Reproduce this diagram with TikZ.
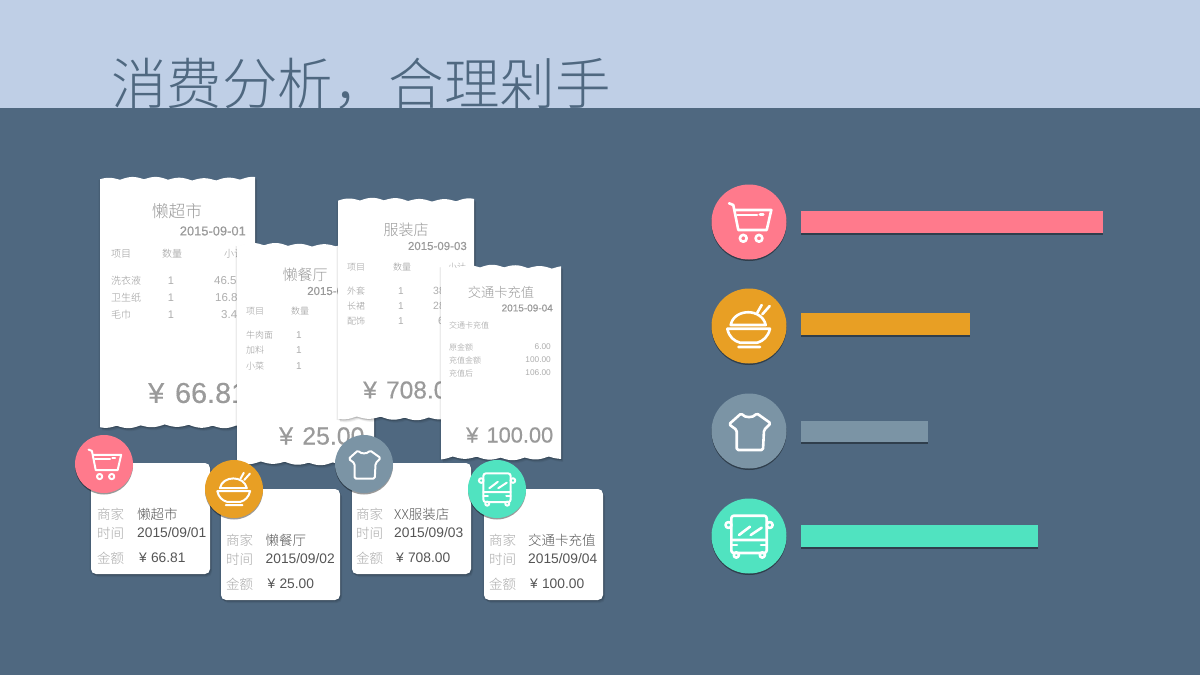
\documentclass[tikz,border=0pt]{standalone}
\usepackage{fontspec}
\setmainfont{Liberation Sans}
\newfontfamily\cjk{Noto Sans CJK SC}[UprightFont=* Light]
\newfontfamily\numb{Liberation Sans}[FakeBold=0.4]
\usetikzlibrary{shadows}
\definecolor{bandblue}{HTML}{4F6880}
\definecolor{topblue}{HTML}{BFCFE6}
\definecolor{pinkc}{HTML}{FF7A8C}
\definecolor{orangec}{HTML}{E89F24}
\definecolor{grayc}{HTML}{7B94A5}
\definecolor{tealc}{HTML}{50E3C0}
\definecolor{inkc}{HTML}{9A9A9A}
\definecolor{inkd}{HTML}{555555}
\newcommand{\fz}[1]{\fontsize{#1}{#1}\selectfont}
\tikzset{
  softshadow/.style={drop shadow={shadow xshift=-1.5pt,shadow yshift=-1pt,opacity=.08,fill=black},
    drop shadow={shadow xshift=1pt,shadow yshift=-1pt,opacity=.1,fill=black},
    drop shadow={shadow xshift=1.5pt,shadow yshift=-2pt,opacity=.08,fill=black},
    drop shadow={shadow xshift=2pt,shadow yshift=-3pt,opacity=.06,fill=black}},
  lowshadow/.style={drop shadow={shadow xshift=0pt,shadow yshift=-1.5pt,opacity=.4,fill=black}},
  tx/.style={inner sep=0pt,text=inkc,font=\cjk\fz{#1}},
  tx/.default=10,
  tn/.style={inner sep=0pt,text=inkc!80,font=\fz{#1}},
  lbl/.style={inner sep=0pt,anchor=west,text=inkc!85,font=\cjk\fz{13.5}},
  val/.style={inner sep=0pt,anchor=west,text=inkd,font=\cjk\fz{13.5}},
  num/.style={inner sep=0pt,anchor=west,text=inkd,font=\fz{13.8}},
  date/.style={inner sep=0pt,anchor=east,text=inkc,font=\numb\fz{#1}},
  total/.style={inner sep=0pt,anchor=west,text=inkc,font=\numb\fz{#1}},
  dot/.style={circle,inner sep=0pt,minimum size=#1,lowshadow},
  icon/.style={white,line join=round,line cap=round},
  carticon/.pic={
    \draw[icon] (-20,-18.7) -- (-15.7,-17) -- (-10.7,8) -- (17.7,8) -- (22.3,-12) -- (-13,-12);
    \draw[icon] (-11.7,-7) -- (8,-7) (11,-7.5) -- (14.3,-7.5);
    \draw[icon] (-5.7,16.3) circle (3.4) (10,16.3) circle (3.4);
  },
  bowlicon/.pic={
    \draw[icon] (-18.3,-1) .. controls (-15,-18) and (13,-18) .. (16.7,-1) -- cycle;
    \draw[icon] (-21.7,2.7) -- (21,2.7) .. controls (19,11) and (14,15) .. (8.3,16.7) -- (-9,16.7) .. controls (-15,15) and (-20,11) .. (-21.7,2.7);
    \draw[icon] (-10.7,21) -- (11,21) (8.3,-13.3) -- (12.7,-21) (13.3,-11.7) -- (20.7,-20);
  },
  shirticon/.pic={
    \draw[icon,rounded corners=1.5pt] (-7.7,-17.7) .. controls (-4,-13) and (4,-13) .. (7.7,-17.7) -- (21.7,-7.7) -- (15,-1) -- (14,19) -- (-12.3,19) -- (-12.3,-1) -- (-20,-6.7) -- cycle;
  },
  busicon/.pic={
    \draw[icon,rounded corners=2.5pt] (-17.7,-20.3) rectangle (17.7,17);
    \draw[icon] (-17.7,4) -- (17.7,4) (-10,-1) -- (1,-9.3) (1.7,-1) -- (12.7,-8.3);
    \draw[icon] (-17.7,9) -- (-12,9) (12,9) -- (17.7,9);
    \draw[icon] (-20.5,-11) circle (3) (20.7,-11) circle (3);
    \draw[icon] (-12.7,19) circle (2.6) (13.3,19) circle (2.6);
  },
}
% torn till paper: x0, x1, top, bottom
\newcommand{\tornpaper}[4]{
\fill[white,softshadow] plot[domain=#1:#2,samples=90] (\x,{#3-2.5*abs(sin(7.5*\x))-.7*sin(3.1*\x)})
  -- plot[domain=#2:#1,samples=90] (\x,{#4+2.5*abs(sin(7.5*\x+25))+.7*sin(3.7*\x)}) -- cycle;
}
% card: name, x, y, label x, value x, shop, time, money
\newcommand{\paycard}[8]{
\fill[white,rounded corners=5pt,softshadow] (#2,#3) rectangle ++(119,111);
\node[lbl] (#1-a) at (#4,#3+51) {商家};
\node[lbl] (#1-b) at (#4,#3+70) {时间};
\node[lbl] (#1-c) at (#4,#3+95) {金额};
\node[val] (#1-shop) at (#5,#3+51) {#6};
\node[num] (#1-time) at (#5,#3+70) {#7};
\node[num] (#1-money) at (#5+2,#3+95) {¥\hskip.3em{}#8};
}
\begin{document}
\begin{tikzpicture}[x=1pt,y=-1pt]
\useasboundingbox (0,0) rectangle (1200,675);
\fill[topblue] (0,0) rectangle (1200,108);
\node[inner sep=0pt,anchor=west,text=bandblue,font=\cjk\fz{55.5}] (title) at (111,84) {消费分析，合理剁手};
\fill[bandblue] (0,108) rectangle (1200,675);

% receipts
\tornpaper{100}{255}{180}{425}
\node[tx=16.7] (r1-title) at (177,211) {懒超市};
\node[date=12.9] (r1-date) at (246,231) {2015-09-01};
\node[tx,anchor=west] (r1-h1) at (111,254) {项目};
\node[tx] (r1-h2) at (172,254) {数量};
\node[tx] (r1-h3) at (234,254) {小计};
\node[tx,anchor=west] (r1-a) at (111,281) {洗衣液};
\node[tx,anchor=west] (r1-b) at (111,298) {卫生纸};
\node[tx,anchor=west] (r1-c) at (111,315) {毛巾};
\node[tn=11] (r1-a1) at (171,281) {1};
\node[tn=11] (r1-b1) at (171,298) {1};
\node[tn=11] (r1-c1) at (171,315) {1};
\node[tn=11.5,anchor=west] (r1-a2) at (214,281) {46.5};
\node[tn=11.5,anchor=west] (r1-b2) at (215,298) {16.8};
\node[tn=11.5,anchor=west] (r1-c2) at (221,315) {3.4};
\node[total=28.8] (r1-total) at (148,393) {¥\hskip.1em{} 66.81};

\tornpaper{237}{374}{246}{462}
\node[tx=15] (r2-title) at (305,275) {懒餐厅};
\node[date=11.5,anchor=west] (r2-date) at (307,291) {2015-0};
\node[tx=9,anchor=west] (r2-h1) at (246,311) {项目};
\node[tx=9] (r2-h2) at (300,311) {数量};
\node[tx=9,anchor=west] (r2-a) at (246,335) {牛肉面};
\node[tx=9,anchor=west] (r2-b) at (246,350) {加料};
\node[tx=9,anchor=west] (r2-c) at (246,366) {小菜};
\node[tn=10] (r2-a1) at (299,335) {1};
\node[tn=10] (r2-b1) at (299,350) {1};
\node[tn=10] (r2-c1) at (299,366) {1};
\node[total=24.8] (r2-total) at (279,436) {¥\hskip.1em{} 25.00};

\tornpaper{338}{474}{201}{417}
\node[tx=15] (r3-title) at (406,230) {服装店};
\node[date=11.5] (r3-date) at (467,246) {2015-09-03};
\node[tx=9,anchor=west] (r3-h1) at (347,267) {项目};
\node[tx=9] (r3-h2) at (402,267) {数量};
\node[tx=9] (r3-h3) at (457,267) {小计};
\node[tx=9,anchor=west] (r3-a) at (347,291) {外套};
\node[tx=9,anchor=west] (r3-b) at (347,306) {长裙};
\node[tx=9,anchor=west] (r3-c) at (347,321) {配饰};
\node[tn=10] (r3-a1) at (401,291) {1};
\node[tn=10] (r3-b1) at (401,306) {1};
\node[tn=10] (r3-c1) at (401,321) {1};
\node[tn=10.5,anchor=west] (r3-a2) at (433,291) {38};
\node[tn=10.5,anchor=west] (r3-b2) at (433,306) {28};
\node[tn=10.5,anchor=west] (r3-c2) at (438,321) {6};
\node[total=24.5] (r3-total) at (363,390) {¥\hskip.1em{} 708.00};

\tornpaper{441}{561}{268}{457}
\node[tx=13.3] (r4-title) at (501,292) {交通卡充值};
\node[date=10] (r4-date) at (553,308) {2015-09-04};
\node[tx=8,anchor=west] (r4-h) at (449,325) {交通卡充值};
\node[tx=8,anchor=west] (r4-a) at (449,347) {原金额};
\node[tx=8,anchor=west] (r4-b) at (449,360) {充值金额};
\node[tx=8,anchor=west] (r4-c) at (449,373) {充值后};
\node[tn=8.3,anchor=east] (r4-a1) at (551,347) {6.00};
\node[tn=8.3,anchor=east] (r4-b1) at (551,360) {100.00};
\node[tn=8.3,anchor=east] (r4-c1) at (551,373) {106.00};
\node[total=21.8] (r4-total) at (466,435) {¥\hskip.1em{} 100.00};

% cards
\paycard{c1}{91}{463}{97}{137}{懒超市}{2015/09/01}{66.81}
\paycard{c2}{221}{489}{226}{265.5}{懒餐厅}{2015/09/02}{25.00}
\paycard{c3}{352}{463}{356}{394}{XX服装店}{2015/09/03}{708.00}
\paycard{c4}{484}{489}{489}{528}{交通卡充值}{2015/09/04}{100.00}
\foreach \n/\xx/\yy/\col/\ic in {1/104/464/pinkc/carticon,2/234/489/orangec/bowlicon,3/364/464/grayc/shirticon,4/497/489/tealc/busicon}{
  \node[dot=58pt,fill=\col] (small\n) at (\xx,\yy) {};
  \pic[scale=.77,line width=2pt] at (small\n) {\ic};
}

% bars
\foreach \n/\yy/\top/\bot/\xe/\col/\ic in {1/222/211/233/1103/pinkc/carticon,2/326/313/335/970/orangec/bowlicon,3/431/421/442/928/grayc/shirticon,4/536/525/547/1038/tealc/busicon}{
  \node[dot=75pt,fill=\col] (big\n) at (749,\yy) {};
  \pic[line width=2.6pt] at (big\n) {\ic};
  \fill[\col,lowshadow] (801,\top) rectangle (\xe,\bot);
}
\end{tikzpicture}
\end{document}
